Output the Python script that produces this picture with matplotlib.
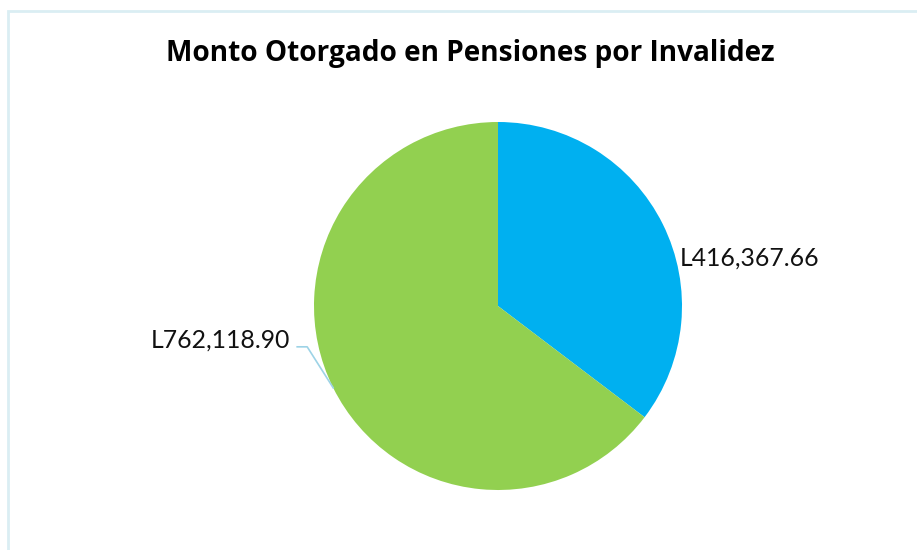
import numpy as np
import matplotlib.pyplot as plt
from matplotlib.patches import Rectangle

# data
categories = ["Grupo A", "Grupo B"]
amounts = [416367.66, 762118.90]
colors = ["#00B0F0", "#92D050"]
labels = ["L{:,.2f}".format(v) for v in amounts]
title = "Monto Otorgado en Pensiones por Invalidez"

W, H = 917, 550
fig = plt.figure(figsize=(W / 100, H / 100), dpi=100)
ax = fig.add_axes([0, 0, 1, 1])

# chart frame
ax.add_patch(Rectangle((8, -5), W, H - 11 + 5, fill=False, edgecolor="#DAEEF3", linewidth=2))

cx, cy, r = 498, H - 306, 184
wedges, _ = ax.pie(amounts, colors=colors, startangle=90, counterclock=False,
                   center=(cx, cy), radius=r, frame=True)
ax.set_xlim(0, W)
ax.set_ylim(0, H)
ax.set_aspect("equal")
ax.axis("off")

# mid-angles of wedges
mids = [np.deg2rad((w.theta1 + w.theta2) / 2) for w in wedges]

# blue label: right of the slice, no leader
ax.text(cx + r * np.cos(mids[0]) + 17, cy + r * np.sin(mids[0]) - 34, labels[0],
        ha="left", va="center", fontsize=17.8, family="Lato", color="#111111")

# green label with leader line
ex, ey = cx + r * np.cos(mids[1]), cy + r * np.sin(mids[1])
kx, ky = ex - 26, ey + 41
ax.plot([ex, kx, kx - 10], [ey, ky, ky], color="#9DD3E6", linewidth=1.2)
ax.text(kx - 17, ky + 7, labels[1], ha="right", va="center", fontsize=17.8,
        family="Lato", color="#111111")

ax.text(470, H - 53, title, ha="center", va="center", fontsize=20.2,
        fontweight="bold", family="Open Sans", color="black")

fig.savefig("out.png", dpi=100)
